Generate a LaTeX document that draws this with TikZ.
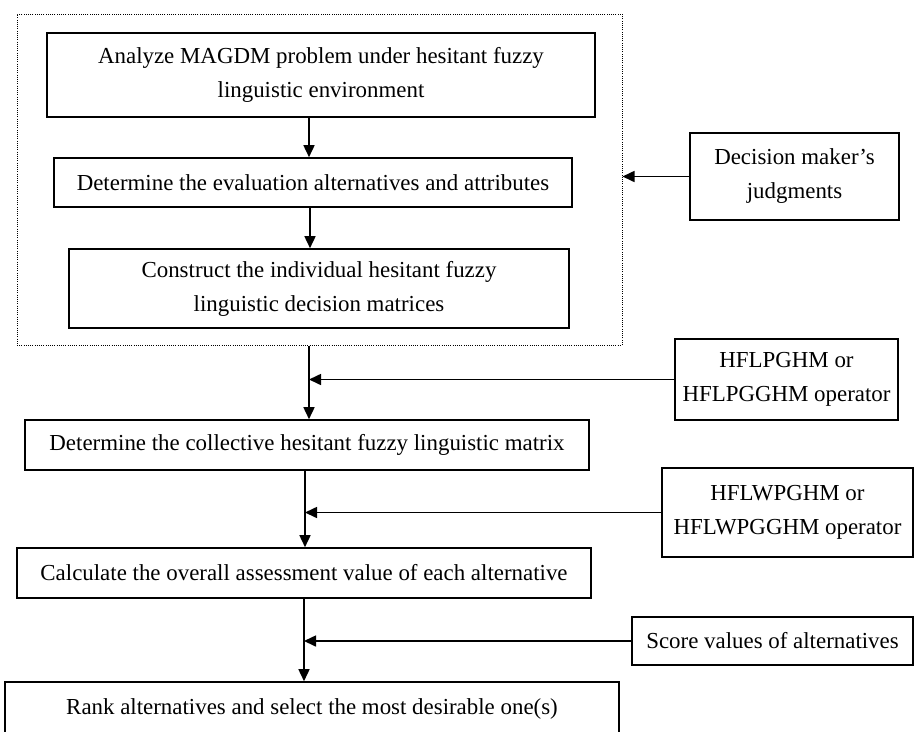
\documentclass[tikz,border=0pt]{standalone}
\usepackage{fontspec}
\setmainfont{Liberation Serif}
\usetikzlibrary{arrows.meta,calc}
\tikzset{
  box/.style={draw, line width=1.6pt, inner sep=0pt, align=center, font=\fontsize{22.9}{34}\selectfont},
  frame/.style={draw, line width=1pt, dash pattern=on 1pt off 1.2pt, inner sep=0pt},
  arr/.style={line width=1.6pt, -{Triangle[length=12pt,width=11pt]}},
}
\begin{document}
\begin{tikzpicture}[x=1pt,y=-1pt]
\path[use as bounding box, clip] (0,0) rectangle (915,731);
% dotted frame
\node[frame, minimum width=605pt, minimum height=331pt] (frame) at (319.5,179.5) {};
% main boxes
\node[box, minimum width=548pt, minimum height=84pt] (b1) at (321,75) {Analyze MAGDM problem under hesitant fuzzy\\linguistic environment};
\node[box, minimum width=518pt, minimum height=49pt] (b2) at (313,182.5) {Determine the evaluation alternatives and attributes};
\node[box, minimum width=500pt, minimum height=79pt] (b3) at (319,288.5) {Construct the individual hesitant fuzzy\\linguistic decision matrices};
\node[box, minimum width=564pt, minimum height=50pt] (b4) at (307,445) {Determine the collective hesitant fuzzy linguistic matrix};
\node[box, minimum width=574pt, minimum height=50pt] (b5) at (304,573) {Calculate the overall assessment value of each alternative};
\node[box, minimum width=614pt, minimum height=54pt] (b6) at (312,709) {Rank alternatives and select the most desirable one(s)};
% side boxes
\node[box, minimum width=209pt, minimum height=87pt] (dm) at (794.5,176.5) {Decision maker’s\\judgments};
\node[box, minimum width=223pt, minimum height=81pt] (hp) at (786.5,379.5) {HFLPGHM or\\HFLPGGHM operator};
\node[box, minimum width=251pt, minimum height=89pt] (hw) at (787.5,512.5) {HFLWPGHM or\\HFLWPGGHM operator};
\node[box, minimum width=281pt, minimum height=48pt] (sc) at (772.5,641) {Score values of alternatives};
% vertical joint lines
\coordinate (v1) at (309,0);
\coordinate (v2) at (305,0);
\coordinate (v3) at (304,0);
% flow arrows
\draw[arr] (b1.south -| v1) -- (b2.north -| v1);
\draw[arr] ($(b2.south -| v1)+(1,0)$) -- ($(b3.north -| v1)+(1,0)$);
\draw[arr] (frame.south -| v1) -- (b4.north -| v1);
\draw[arr] (b4.south -| v2) -- (b5.north -| v2);
\draw[arr] (b5.south -| v3) -- (b6.north -| v3);
% side arrows
\draw[arr] (dm.west) -- (dm.west -| frame.east);
\draw[arr] (hp.west) -- (hp.west -| v1);
\draw[arr] (hw.west) -- (hw.west -| v2);
\draw[arr] (sc.west) -- (sc.west -| v3);
\end{tikzpicture}
\end{document}
